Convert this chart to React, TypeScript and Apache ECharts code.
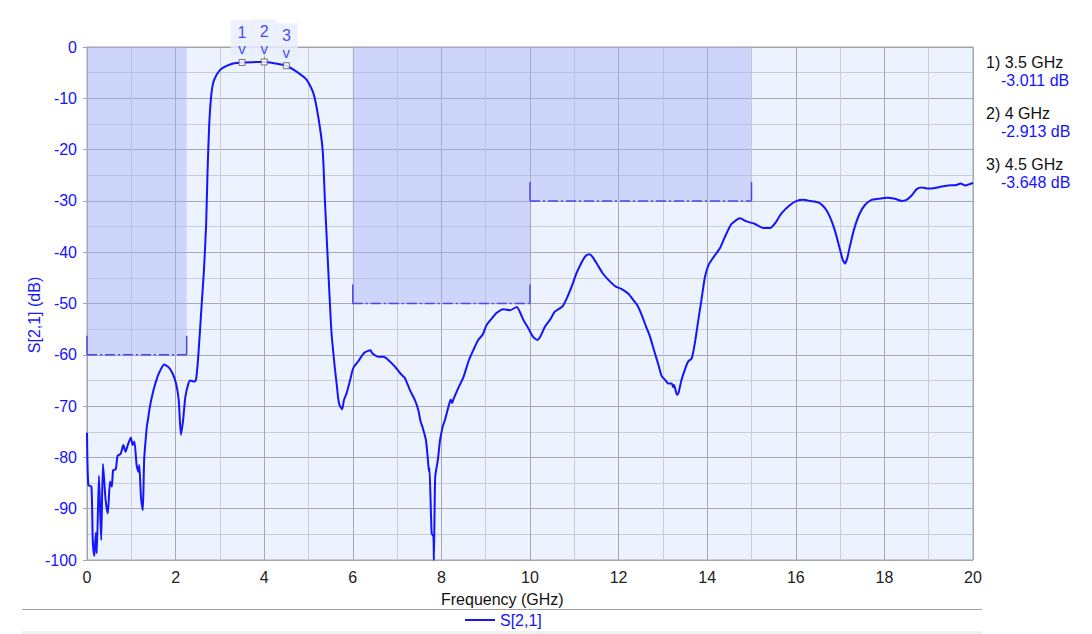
import React, { useEffect, useRef } from 'react';
import * as echarts from 'echarts';

// S[2,1] trace
const freqGHz = [
  0.0, 0.03, 0.1, 0.13, 0.165, 0.2, 0.22, 0.27, 0.32, 0.36, 0.42, 0.47, 0.52, 0.56, 0.59, 0.65, 0.69, 0.76, 0.82,
  0.87, 0.92, 0.99, 1.03, 1.07, 1.12, 1.16, 1.18, 1.22, 1.26, 1.29, 1.35, 1.37, 1.42, 1.5, 1.59, 1.65, 1.74, 1.84,
  1.93, 2.01, 2.07, 2.12, 2.17, 2.22, 2.29, 2.33, 2.42, 2.46, 2.51, 2.59, 2.64, 2.69, 2.72, 2.76, 2.81, 2.87, 3.0,
  3.15, 3.3, 3.5, 3.75, 4.0, 4.25, 4.5, 4.73, 4.96, 5.11, 5.22, 5.32, 5.37, 5.45, 5.52, 5.6, 5.64, 5.67, 5.7, 5.76,
  5.8, 5.86, 5.94, 6.01, 6.12, 6.26, 6.4, 6.44, 6.58, 6.69, 6.8, 6.95, 7.07, 7.18, 7.29, 7.4, 7.48, 7.53, 7.57,
  7.65, 7.69, 7.72, 7.73, 7.78, 7.82, 7.83, 7.86, 7.92, 7.97, 8.03, 8.08, 8.16, 8.21, 8.24, 8.28, 8.38, 8.5, 8.61,
  8.72, 8.83, 8.93, 9.02, 9.14, 9.25, 9.4, 9.55, 9.7, 9.77, 9.85, 9.96, 10.07, 10.17, 10.23, 10.34, 10.45, 10.56,
  10.68, 10.74, 10.83, 10.94, 11.05, 11.17, 11.26, 11.34, 11.41, 11.52, 11.64, 11.77, 11.92, 12.07, 12.22, 12.33,
  12.42, 12.52, 12.62, 12.71, 12.81, 12.9, 12.97, 13.05, 13.12, 13.2, 13.23, 13.25, 13.32, 13.35, 13.42, 13.5,
  13.57, 13.65, 13.72, 13.8, 13.88, 13.95, 14.03, 14.14, 14.29, 14.4, 14.55, 14.74, 14.89, 15.08, 15.27, 15.42,
  15.53, 15.68, 15.87, 16.02, 16.17, 16.32, 16.51, 16.66, 16.77, 16.88, 16.98, 17.06, 17.11, 17.16, 17.22, 17.31,
  17.43, 17.56, 17.71, 17.86, 18.05, 18.24, 18.39, 18.5, 18.62, 18.73, 18.84, 18.99, 19.14, 19.29, 19.44, 19.63,
  19.72, 19.82, 19.93, 20.0,
];
const s21dB = [
  -75.2, -85.4, -85.7, -96.1, -99.2, -94.7, -98.7, -83.6, -96.1, -81.3, -88.3, -90.9, -84.7, -85.7, -82.5, -82.3,
  -79.7, -79.3, -77.6, -78.9, -77.6, -76.1, -77.6, -76.9, -81.5, -82.8, -81.5, -88.0, -90.3, -80.5, -74.0, -73.0,
  -70.1, -66.9, -64.3, -63.1, -61.9, -62.4, -63.6, -65.6, -68.8, -75.6, -72.7, -68.2, -65.6, -65.0, -65.2, -64.9,
  -60.5, -50.0, -43.5, -34.4, -24.6, -14.9, -9.0, -6.4, -4.5, -3.7, -3.2, -3.011, -2.95, -2.913, -3.2, -3.648, -4.8,
  -6.4, -9.0, -13.6, -20.1, -29.8, -44.1, -55.8, -63.0, -66.0, -68.5, -69.8, -70.6, -68.8, -67.5, -64.9, -62.6,
  -61.3, -59.6, -59.1, -59.7, -60.4, -60.4, -61.0, -62.3, -63.6, -64.6, -66.9, -68.8, -70.8, -73.0, -74.0, -76.6,
  -79.9, -82.8, -82.0, -94.8, -95.4, -100, -83.8, -80.5, -76.6, -74.0, -72.7, -70.1, -68.7, -69.4, -68.5, -66.5,
  -64.3, -61.3, -59.1, -57.1, -56.1, -54.2, -52.9, -51.8, -51.1, -51.3, -50.7, -51.6, -53.2, -54.8, -56.5, -57.1,
  -56.5, -54.5, -53.2, -51.6, -50.9, -50.5, -49.0, -46.7, -44.1, -41.9, -40.7, -40.4, -40.9, -42.4, -44.1, -45.4,
  -46.6, -47.2, -48.1, -49.3, -50.3, -52.2, -54.5, -56.5, -59.4, -62.0, -64.1, -64.9, -65.6, -65.6, -66.3, -65.9,
  -67.8, -67.5, -64.9, -62.8, -61.3, -60.7, -57.8, -53.2, -48.7, -44.8, -42.5, -41.0, -39.2, -37.0, -34.5, -33.4,
  -34.0, -34.5, -35.3, -35.3, -34.4, -32.4, -30.8, -30.0, -29.8, -30.0, -30.3, -31.4, -33.1, -35.7, -38.9, -41.5,
  -42.2, -41.2, -38.9, -35.7, -32.7, -30.8, -29.8, -29.6, -29.4, -29.6, -30.0, -29.8, -28.9, -27.7, -27.4, -27.6,
  -27.5, -27.2, -27.0, -26.9, -26.6, -27.0, -26.7, -26.5,
];

// markers
const markerFreq = [3.5, 4, 4.5];
const markerDB = [-3.011, -2.913, -3.648];

// stopband mask
const maskStart = [0, 6, 10];
const maskEnd = [2.25, 10, 15];
const maskLimit = [-60, -50, -30];
const maskTick = 3.7;

const BLUE = '#1414ff';
const FONT = 'Liberation Sans, Arial, sans-serif';

const App = () => {
  const chartRef = useRef<HTMLDivElement>(null);

  useEffect(() => {
    document.body.style.margin = '0';
    if (!chartRef.current) return;
    const chart = echarts.init(chartRef.current, null, { renderer: 'svg' });

    const trace = freqGHz.map((f, i) => [f, s21dB[i]]);
    const markers = markerFreq.map((f, i) => [f, markerDB[i]]);

    const limitLine: any[] = [];
    const tickLine: any[] = [];
    maskStart.forEach((s, i) => {
      limitLine.push([s, maskLimit[i]], [maskEnd[i], maskLimit[i]], '-');
      tickLine.push([s, maskLimit[i] + maskTick], [s, maskLimit[i]], '-');
      tickLine.push([maskEnd[i], maskLimit[i] + maskTick], [maskEnd[i], maskLimit[i]], '-');
    });
    const areas = maskStart.map((s, i) => [
      { coord: [s, 0] },
      { coord: [maskEnd[i], maskLimit[i]] },
    ]);

    const readouts: any[] = [];
    markerFreq.forEach((f, i) => {
      readouts.push({
        type: 'text',
        left: 986,
        top: 54 + i * 51,
        style: { text: `${i + 1}) ${f} GHz`, fill: '#111', font: `16px ${FONT}` },
      });
      readouts.push({
        type: 'text',
        left: 1001,
        top: 72 + i * 51,
        style: { text: `${markerDB[i].toFixed(3)} dB`, fill: BLUE, font: `16px ${FONT}` },
      });
    });

    chart.setOption({
      animation: false,
      textStyle: { fontFamily: FONT },
      grid: {
        left: 87,
        top: 47,
        width: 886,
        height: 513,
        show: true,
        backgroundColor: '#ecf2fe',
        borderColor: '#a4a4a8',
        borderWidth: 1,
      },
      legend: {
        data: ['S[2,1]'],
        top: 607,
        left: 460,
        icon: 'rect',
        itemWidth: 30,
        itemHeight: 2,
        itemGap: 8,
        textStyle: { color: BLUE, fontSize: 16, fontFamily: FONT },
      },
      xAxis: {
        type: 'value',
        min: 0,
        max: 20,
        interval: 2,
        axisLine: { show: true, lineStyle: { color: '#a4a4a8' } },
        axisTick: { show: false },
        axisLabel: { color: '#222', fontSize: 16, margin: 9 },
        splitLine: { lineStyle: { color: '#a8a8b4', width: 1 } },
        minorTick: { show: false, splitNumber: 2 },
        minorSplitLine: { show: true, lineStyle: { color: '#cacdd8', width: 1 } },
      },
      yAxis: {
        type: 'value',
        min: -100,
        max: 0,
        interval: 10,
        axisLine: { show: true, lineStyle: { color: '#a4a4a8' } },
        axisTick: { show: true, length: 4, lineStyle: { color: '#a4a4a8' } },
        axisLabel: { color: BLUE, fontSize: 16, margin: 10 },
        splitLine: { lineStyle: { color: '#a8a8b4', width: 1 } },
        minorTick: { show: false, splitNumber: 2 },
        minorSplitLine: { show: true, lineStyle: { color: '#cacdd8', width: 1 } },
      },
      graphic: [
        {
          type: 'text',
          x: 34,
          y: 315,
          rotation: Math.PI / 2,
          style: {
            text: 'S[2,1] (dB)',
            fill: BLUE,
            font: `16px ${FONT}`,
            align: 'center',
            verticalAlign: 'middle',
          },
        },
        {
          type: 'text',
          left: 441,
          top: 591,
          style: { text: 'Frequency (GHz)', fill: '#111', font: `16px ${FONT}` },
        },
        {
          type: 'line',
          shape: { x1: 22, y1: 609.5, x2: 982, y2: 609.5 },
          style: { stroke: '#a0a0a0', lineWidth: 1 },
        },
        {
          type: 'rect',
          shape: { x: 22, y: 631, width: 960, height: 3 },
          style: { fill: '#f0f0f0' },
        },
        ...readouts,
      ],
      series: [
        {
          name: 'mask',
          type: 'line',
          data: limitLine,
          symbol: 'none',
          silent: true,
          z: 3,
          lineStyle: { color: '#4848f0', width: 1.5, type: [10, 3, 2, 3] },
          markArea: {
            silent: true,
            itemStyle: { color: 'rgba(165,175,245,0.42)' },
            data: areas,
          },
        },
        {
          name: 'maskTicks',
          type: 'line',
          data: tickLine,
          symbol: 'none',
          silent: true,
          z: 3,
          lineStyle: { color: '#4848f0', width: 1.5 },
        },
        {
          name: 'S[2,1]',
          type: 'line',
          data: trace,
          symbol: 'none',
          smooth: 0.2,
          color: BLUE,
          z: 5,
          lineStyle: { color: BLUE, width: 2 },
        },
        {
          name: 'markers',
          type: 'scatter',
          data: markers,
          symbol: 'rect',
          symbolSize: 6,
          z: 6,
          itemStyle: { color: '#fff', borderColor: '#555', borderWidth: 1 },
          label: {
            show: true,
            position: 'top',
            distance: 3,
            formatter: (p: any) => `{n|${p.dataIndex + 1}}\n{v|v}`,
            backgroundColor: '#e8eefc',
            padding: [3, 7, 0, 7],
            rich: {
              n: { color: BLUE, fontSize: 16, lineHeight: 19, fontFamily: FONT },
              v: { color: BLUE, fontSize: 15, lineHeight: 14, fontFamily: FONT },
            },
          },
        },
      ],
    });

    return () => {
      chart.dispose();
    };
  }, []);

  return <div ref={chartRef} style={{ width: 1092, height: 634 }}></div>;
};

export default App;
